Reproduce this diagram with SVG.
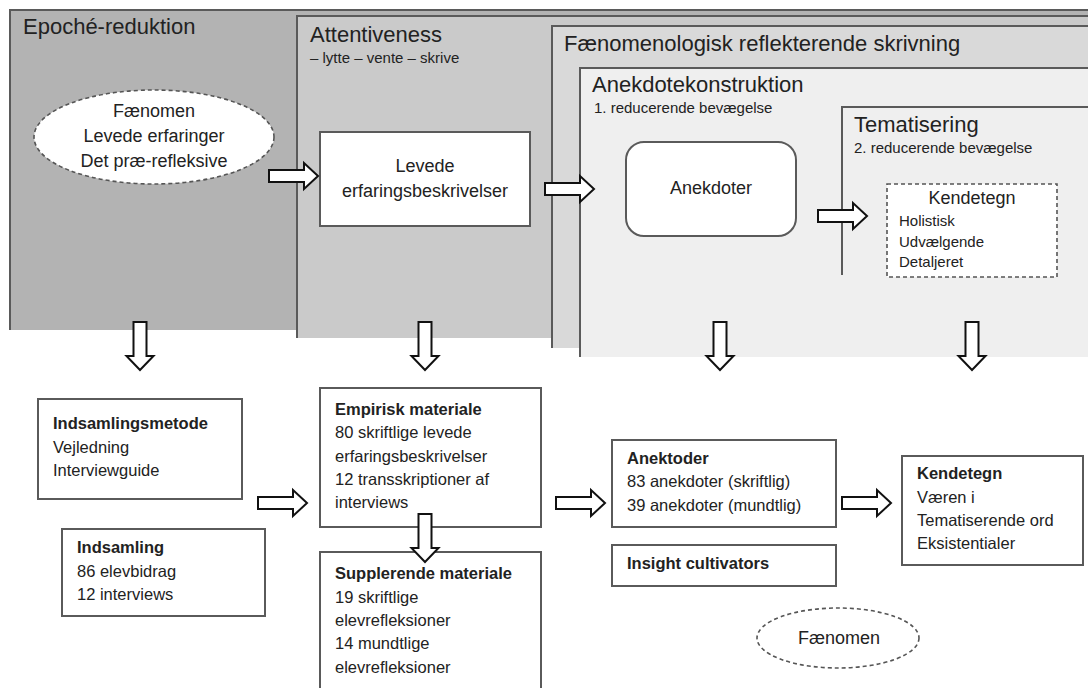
<svg xmlns="http://www.w3.org/2000/svg" width="1088" height="688" viewBox="0 0 1088 688">
<style>
text{font-family:"Liberation Sans",Arial,sans-serif;fill:#222}
.t{font-size:22px}
.s{font-size:15px}
.m{font-size:18px}
.k{font-size:15px}
.b{font-size:16.5px}
.bb{font-size:16.5px;font-weight:bold}
.edge{fill:none;stroke:#5a5a5a;stroke-width:2}
.box{fill:#fff;stroke:#5a5a5a;stroke-width:2}
.dash{fill:#fff;stroke:#555;stroke-width:1.6;stroke-dasharray:4 3}
.arr{fill:#fff;stroke:#111;stroke-width:2;stroke-linejoin:miter}
.c{text-anchor:middle}
</style>
<defs>
<path id="ra" d="M0,-6 H35 V-13 L49,0 L35,13 V6 H0 Z"/>
<path id="da" d="M-6.5,0 V34 H-13.5 L0,48 L13.5,34 H6.5 V0 Z"/>
</defs>
<rect width="1088" height="688" fill="#fff"/>

<g id="epoche">
<rect x="10" y="10" width="1080" height="320" fill="#b3b3b3"/>
<path class="edge" d="M10,330 V10 H1090"/>
<text class="t" x="23" y="34">Epoché-reduktion</text>
</g>

<g id="attentiveness">
<rect x="297" y="16" width="793" height="322" fill="#cacaca"/>
<path class="edge" d="M297,338 V16 H1090"/>
<text class="t" x="310" y="42">Attentiveness</text>
<text class="s" x="310" y="63">– lytte – vente – skrive</text>
</g>

<g id="faenomenologisk">
<rect x="552" y="26" width="538" height="322" fill="#d9d9d9"/>
<path class="edge" d="M552,348 V26 H1090"/>
<text class="t" x="564" y="51">Fænomenologisk reflekterende skrivning</text>
</g>

<g id="anekdotekonstruktion">
<rect x="580" y="68" width="510" height="289" fill="#efefef"/>
<path class="edge" d="M580,357 V68 H1090"/>
<text class="t" x="592" y="92">Anekdotekonstruktion</text>
<text class="s" x="594" y="113">1. reducerende bevægelse</text>
</g>

<g id="tematisering">
<path class="edge" d="M842,275 V107 H1090"/>
<text class="t" x="854" y="132">Tematisering</text>
<text class="s" x="854" y="153">2. reducerende bevægelse</text>
</g>

<g id="faenomen-top">
<ellipse class="dash" cx="154" cy="137" rx="120" ry="47"/>
<text class="m c" x="154" y="117">Fænomen</text>
<text class="m c" x="154" y="142">Levede erfaringer</text>
<text class="m c" x="154" y="167">Det præ-refleksive</text>
</g>

<g id="levede">
<rect class="box" x="320" y="132" width="210" height="94"/>
<text class="m c" x="425" y="172">Levede</text>
<text class="m c" x="425" y="197">erfaringsbeskrivelser</text>
</g>

<g id="anekdoter-top">
<rect class="box" x="626" y="142" width="170" height="94" rx="18"/>
<text class="m c" x="711" y="194">Anekdoter</text>
</g>

<g id="kendetegn-top">
<rect class="dash" x="887" y="184" width="170" height="93"/>
<text class="m c" x="972" y="204">Kendetegn</text>
<text class="k" x="899" y="226">Holistisk</text>
<text class="k" x="899" y="247">Udvælgende</text>
<text class="k" x="899" y="267">Detaljeret</text>
</g>

<g id="indsamlingsmetode">
<rect class="box" x="38" y="399" width="204" height="100"/>
<text class="bb" x="53" y="429">Indsamlingsmetode</text>
<text class="b" x="53" y="453">Vejledning</text>
<text class="b" x="53" y="476">Interviewguide</text>
</g>

<g id="indsamling">
<rect class="box" x="62" y="529" width="203" height="87"/>
<text class="bb" x="77" y="553">Indsamling</text>
<text class="b" x="77" y="577">86 elevbidrag</text>
<text class="b" x="77" y="600">12 interviews</text>
</g>

<g id="empirisk">
<rect class="box" x="320" y="388" width="221" height="139"/>
<text class="bb" x="335" y="415">Empirisk materiale</text>
<text class="b" x="335" y="438">80 skriftlige levede</text>
<text class="b" x="335" y="462">erfaringsbeskrivelser</text>
<text class="b" x="335" y="485">12 transskriptioner af</text>
<text class="b" x="335" y="508">interviews</text>
</g>

<g id="supplerende">
<rect class="box" x="320" y="552" width="221" height="150"/>
<text class="bb" x="335" y="579">Supplerende materiale</text>
<text class="b" x="335" y="603">19 skriftlige</text>
<text class="b" x="335" y="626">elevrefleksioner</text>
<text class="b" x="335" y="649">14 mundtlige</text>
<text class="b" x="335" y="673">elevrefleksioner</text>
</g>

<g id="anektoder">
<rect class="box" x="612" y="440" width="224" height="87"/>
<text class="bb" x="627" y="464">Anektoder</text>
<text class="b" x="627" y="487">83 anekdoter (skriftlig)</text>
<text class="b" x="627" y="511">39 anekdoter (mundtlig)</text>
</g>

<g id="insight">
<rect class="box" x="612" y="545" width="224" height="41"/>
<text class="bb" x="627" y="569">Insight cultivators</text>
</g>

<g id="kendetegn">
<rect class="box" x="902" y="456" width="181" height="109"/>
<text class="bb" x="917" y="479">Kendetegn</text>
<text class="b" x="917" y="503">Væren i</text>
<text class="b" x="917" y="526">Tematiserende ord</text>
<text class="b" x="917" y="549">Eksistentialer</text>
</g>

<g id="faenomen-bottom">
<ellipse class="dash" cx="838" cy="638" rx="81" ry="30"/>
<text class="m c" x="839" y="644">Fænomen</text>
</g>

<g id="connectors">
<use href="#ra" class="arr" x="269" y="176"/>
<use href="#ra" class="arr" x="545" y="189"/>
<use href="#ra" class="arr" x="818" y="216"/>
<use href="#ra" class="arr" x="258" y="503"/>
<use href="#ra" class="arr" x="556" y="503"/>
<use href="#ra" class="arr" x="842" y="503"/>
<use href="#da" class="arr" x="140" y="322"/>
<use href="#da" class="arr" x="425" y="322"/>
<use href="#da" class="arr" x="720" y="322"/>
<use href="#da" class="arr" x="972" y="322"/>
<use href="#da" class="arr" x="425" y="514"/>
</g>
</svg>
